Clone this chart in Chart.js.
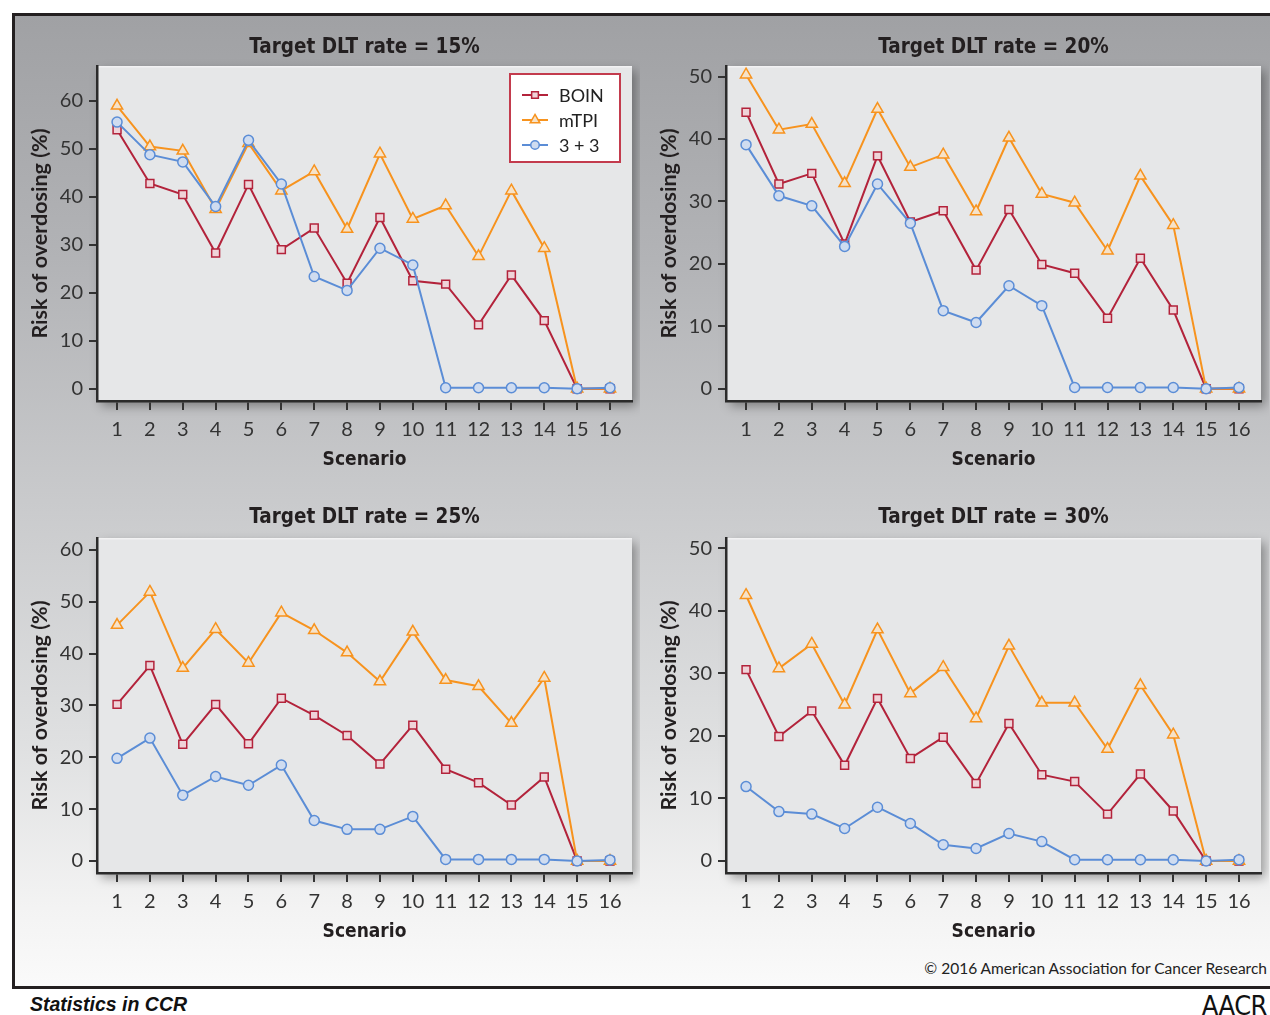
<!DOCTYPE html>
<html>
<head>
<meta charset="utf-8">
<title>Risk of overdosing by scenario</title>
<script src="https://cdn.jsdelivr.net/npm/chart.js@4.4.1/dist/chart.umd.min.js"></script>
<style>
  html, body { margin: 0; padding: 0; background: #ffffff; width: 1270px; height: 1015px; overflow: hidden; }
  #frame {
    position: absolute; left: 12px; top: 13px; width: 1262px; height: 970px;
    border: 3px solid #231f20; border-right: none;
    background: linear-gradient(to bottom, #a0a1a4 0%, #b2b3b6 25%, #c9cacc 50%, #dfe0e1 75%, #f3f3f3 92%, #fafafa 100%);
  }
  .panel { position: absolute; width: 620px; height: 455px; }
  #p15 { left: 20px; top: 20px; }
  #p20 { left: 649px; top: 20px; }
  #p25 { left: 20px; top: 492px; }
  #p30 { left: 649px; top: 492px; }
  #copyright {
    position: absolute; right: 3px; top: 959px;
    font: 400 15.5px Lato, "Open Sans", sans-serif; color: #222; white-space: nowrap;
  }
  #series {
    position: absolute; left: 30px; top: 993px;
    font: italic bold 19.5px "Liberation Sans", Arial, sans-serif; color: #111;
  }
  #logo {
    position: absolute; right: 3px; top: 990px;
    font: 300 27px "Liberation Sans Narrow", "DejaVu Sans Condensed", sans-serif; color: #111; letter-spacing: -0.5px;
  }
</style>
</head>
<body>
<div id="frame"></div>
<div class="panel" id="p15"><canvas id="c15" width="620" height="455"></canvas></div>
<div class="panel" id="p20"><canvas id="c20" width="620" height="455"></canvas></div>
<div class="panel" id="p25"><canvas id="c25" width="620" height="455"></canvas></div>
<div class="panel" id="p30"><canvas id="c30" width="620" height="455"></canvas></div>
<div id="copyright">© 2016 American Association for Cancer Research</div>
<div id="series">Statistics in CCR</div>
<div id="logo">AACR</div>
<script>
// Scenarios on the x axis
const scenarios = [1, 2, 3, 4, 5, 6, 7, 8, 9, 10, 11, 12, 13, 14, 15, 16];

// Risk of overdosing (%) per design, target DLT rate = 15%
const boin15 = [54.0, 42.8, 40.5, 28.3, 42.6, 29.0, 33.5, 22.0, 35.7, 22.5, 21.8, 13.3, 23.7, 14.2, 0, 0];
const mtpi15 = [59.0, 50.5, 49.6, 37.4, 51.2, 41.3, 45.3, 33.3, 49.0, 35.4, 38.2, 27.6, 41.3, 29.3, 0, 0];
const three15 = [55.6, 48.8, 47.3, 38.0, 51.8, 42.7, 23.4, 20.5, 29.3, 25.8, 0.2, 0.2, 0.2, 0.2, 0, 0.2];

// Target DLT rate = 20%
const boin20 = [44.3, 32.8, 34.5, 23.2, 37.3, 26.7, 28.5, 19.0, 28.7, 19.9, 18.5, 11.3, 20.9, 12.6, 0, 0];
const mtpi20 = [50.3, 41.5, 42.4, 32.9, 44.8, 35.5, 37.5, 28.4, 40.2, 31.2, 29.8, 22.1, 34.1, 26.2, 0, 0];
const three20 = [39.1, 30.9, 29.3, 22.8, 32.8, 26.5, 12.5, 10.6, 16.5, 13.3, 0.2, 0.2, 0.2, 0.2, 0, 0.2];

// Target DLT rate = 25%
const boin25 = [30.2, 37.7, 22.5, 30.2, 22.6, 31.4, 28.1, 24.2, 18.7, 26.2, 17.7, 15.1, 10.8, 16.2, 0, 0];
const mtpi25 = [45.5, 51.9, 37.2, 44.7, 38.2, 47.9, 44.5, 40.2, 34.6, 44.2, 34.9, 33.7, 26.6, 35.3, 0, 0];
const three25 = [19.8, 23.7, 12.7, 16.3, 14.6, 18.5, 7.8, 6.1, 6.1, 8.6, 0.3, 0.3, 0.3, 0.3, 0, 0.2];

// Target DLT rate = 30%
const boin30 = [30.6, 19.9, 24.0, 15.3, 26.0, 16.4, 19.8, 12.4, 22.0, 13.8, 12.7, 7.5, 13.9, 8.0, 0, 0];
const mtpi30 = [42.5, 30.8, 34.7, 25.0, 37.0, 26.8, 31.0, 22.8, 34.4, 25.3, 25.3, 17.9, 28.1, 20.2, 0, 0];
const three30 = [11.9, 7.9, 7.5, 5.2, 8.6, 6.0, 2.6, 2.0, 4.4, 3.1, 0.2, 0.2, 0.2, 0.2, 0, 0.2];

// Axis ticks
const yTicks60 = [0, 10, 20, 30, 40, 50, 60];
const yTicks50 = [0, 10, 20, 30, 40, 50];
const xTicks = scenarios;

const seriesNames = ['BOIN', 'mTPI', '3 + 3'];
const panelTitles = ['Target DLT rate = 15%', 'Target DLT rate = 20%', 'Target DLT rate = 25%', 'Target DLT rate = 30%'];

const styles = [
  { line: '#b3233b', fill: '#efd3d8', pointStyle: 'rect', radius: 5.6 },
  { line: '#f7931e', fill: '#f6e2c8', pointStyle: 'triangle', radius: 6.5 },
  { line: '#5b8dd6', fill: '#cfdcf0', pointStyle: 'circle', radius: 5 }
];

const TICK_FONT = { family: 'Lato, "Open Sans", sans-serif', size: 20, weight: '400' };
const AXIS_TITLE_FONT = { family: 'Lato, "Open Sans", sans-serif', size: 21.5, weight: 'bold' };
const PANEL_TITLE_FONT = { family: '"Liberation Sans Narrow", "DejaVu Sans Condensed", sans-serif', size: 20.5, weight: 'bold' };

// Plot background with a soft drop shadow
const plotBackground = {
  id: 'plotBackground',
  beforeDraw(chart) {
    const { ctx, chartArea: a } = chart;
    ctx.save();
    ctx.shadowColor = 'rgba(0,0,0,0.35)';
    ctx.shadowBlur = 10;
    ctx.shadowOffsetX = 4;
    ctx.shadowOffsetY = 5;
    ctx.fillStyle = '#e6e7e8';
    ctx.fillRect(a.left, a.top, a.right - a.left, a.bottom - a.top);
    ctx.restore();
    ctx.save();
    ctx.fillStyle = '#f2f2f3';
    ctx.fillRect(a.left, a.top, a.right - a.left, 1.5);
    ctx.restore();
  }
};

function drawMarker(ctx, st, x, y) {
  ctx.beginPath();
  const r = st.radius;
  if (st.pointStyle === 'rect') {
    const s = Math.SQRT1_2 * r;
    ctx.rect(x - s, y - s, 2 * s, 2 * s);
  } else if (st.pointStyle === 'triangle') {
    ctx.moveTo(x, y - r);
    ctx.lineTo(x + r * Math.sin(Math.PI / 3), y + r / 2);
    ctx.lineTo(x - r * Math.sin(Math.PI / 3), y + r / 2);
    ctx.closePath();
  } else {
    ctx.arc(x, y, r, 0, Math.PI * 2);
  }
  ctx.fillStyle = st.fill;
  ctx.fill();
  ctx.lineWidth = 1.5;
  ctx.strokeStyle = st.line;
  ctx.stroke();
}

// Boxed legend inside the first panel
const boxedLegend = {
  id: 'boxedLegend',
  afterDatasetsDraw(chart) {
    const { ctx, chartArea: a } = chart;
    const w = 110, h = 88;
    const x0 = a.right - 12 - w, y0 = a.top + 8;
    ctx.save();
    ctx.fillStyle = '#ffffff';
    ctx.fillRect(x0, y0, w, h);
    ctx.lineWidth = 2;
    ctx.strokeStyle = '#c33b4d';
    ctx.strokeRect(x0, y0, w, h);
    seriesNames.forEach((name, i) => {
      const st = styles[i];
      const y = y0 + 21 + i * 25;
      ctx.beginPath();
      ctx.moveTo(x0 + 12, y);
      ctx.lineTo(x0 + 38, y);
      ctx.lineWidth = 2;
      ctx.strokeStyle = st.line;
      ctx.stroke();
      drawMarker(ctx, Object.assign({}, st, { radius: st.radius * 0.85 }), x0 + 25, y);
      ctx.fillStyle = '#222';
      ctx.font = '18px Lato, "Open Sans", sans-serif';
      ctx.textBaseline = 'middle';
      ctx.textAlign = 'left';
      ctx.fillText(name, x0 + 49, y + 1);
    });
    ctx.restore();
  }
};

function makePanel(canvasId, title, series, yTicks, yMin, yMax, titlePad, withLegend) {
  const datasets = series.map((vals, i) => ({
    label: seriesNames[i],
    data: scenarios.map((s, k) => ({ x: s, y: vals[k] })),
    borderColor: styles[i].line,
    borderWidth: 2,
    backgroundColor: styles[i].fill,
    pointStyle: styles[i].pointStyle,
    pointRadius: styles[i].radius,
    pointBorderWidth: 1.5,
    pointBorderColor: styles[i].line,
    pointBackgroundColor: styles[i].fill,
    tension: 0,
    clip: false,
    order: 3 - i
  }));
  const plugins = [plotBackground];
  if (withLegend) plugins.push(boxedLegend);
  return new Chart(document.getElementById(canvasId), {
    type: 'line',
    data: { datasets },
    plugins,
    options: {
      responsive: false,
      animation: false,
      devicePixelRatio: 1,
      layout: { padding: { left: 0, right: 8, top: 0, bottom: 0 } },
      plugins: {
        legend: { display: false },
        tooltip: { enabled: false },
        title: {
          display: true, text: title, fullSize: false,
          color: '#231f20', font: PANEL_TITLE_FONT,
          padding: titlePad
        }
      },
      scales: {
        x: {
          type: 'linear', min: 0.39, max: 16.67,
          afterFit(scale) { scale.height = 74; },
          afterBuildTicks(scale) { scale.ticks = xTicks.map(v => ({ value: v })); },
          grid: { drawOnChartArea: false, drawTicks: true, tickLength: 9, color: '#333', lineWidth: 2 },
          border: { display: true, color: '#2b2b2b', width: 2.5 },
          ticks: { color: '#333', font: TICK_FONT, padding: 8, maxRotation: 0, autoSkip: false },
          title: { display: true, text: 'Scenario', color: '#231f20', font: { family: PANEL_TITLE_FONT.family, size: 19, weight: 'bold' }, padding: { top: 0, bottom: 4 } }
        },
        y: {
          type: 'linear', min: yMin, max: yMax,
          afterFit(scale) { scale.width = 77; },
          afterBuildTicks(scale) { scale.ticks = yTicks.map(v => ({ value: v })); },
          grid: { drawOnChartArea: false, drawTicks: true, tickLength: 8, color: '#333', lineWidth: 2 },
          border: { display: true, color: '#2b2b2b', width: 2.5 },
          ticks: { color: '#333', font: TICK_FONT, padding: 6 },
          title: { display: true, text: 'Risk of overdosing (%)', color: '#231f20', font: AXIS_TITLE_FONT, padding: { top: 7, bottom: 0 } }
        }
      }
    }
  });
}

makePanel('c15', panelTitles[0], [boin15, mtpi15, three15], yTicks60, -2.57, 67.3, { top: 15, bottom: 6.4 }, true);
makePanel('c20', panelTitles[1], [boin20, mtpi20, three20], yTicks50, -1.97, 51.7, { top: 15, bottom: 6.4 }, false);
makePanel('c25', panelTitles[2], [boin25, mtpi25, three25], yTicks60, -2.32, 62.3, { top: 13, bottom: 8.4 }, false);
makePanel('c30', panelTitles[3], [boin30, mtpi30, three30], yTicks50, -1.92, 51.65, { top: 13, bottom: 8.4 }, false);
</script>
</body>
</html>
